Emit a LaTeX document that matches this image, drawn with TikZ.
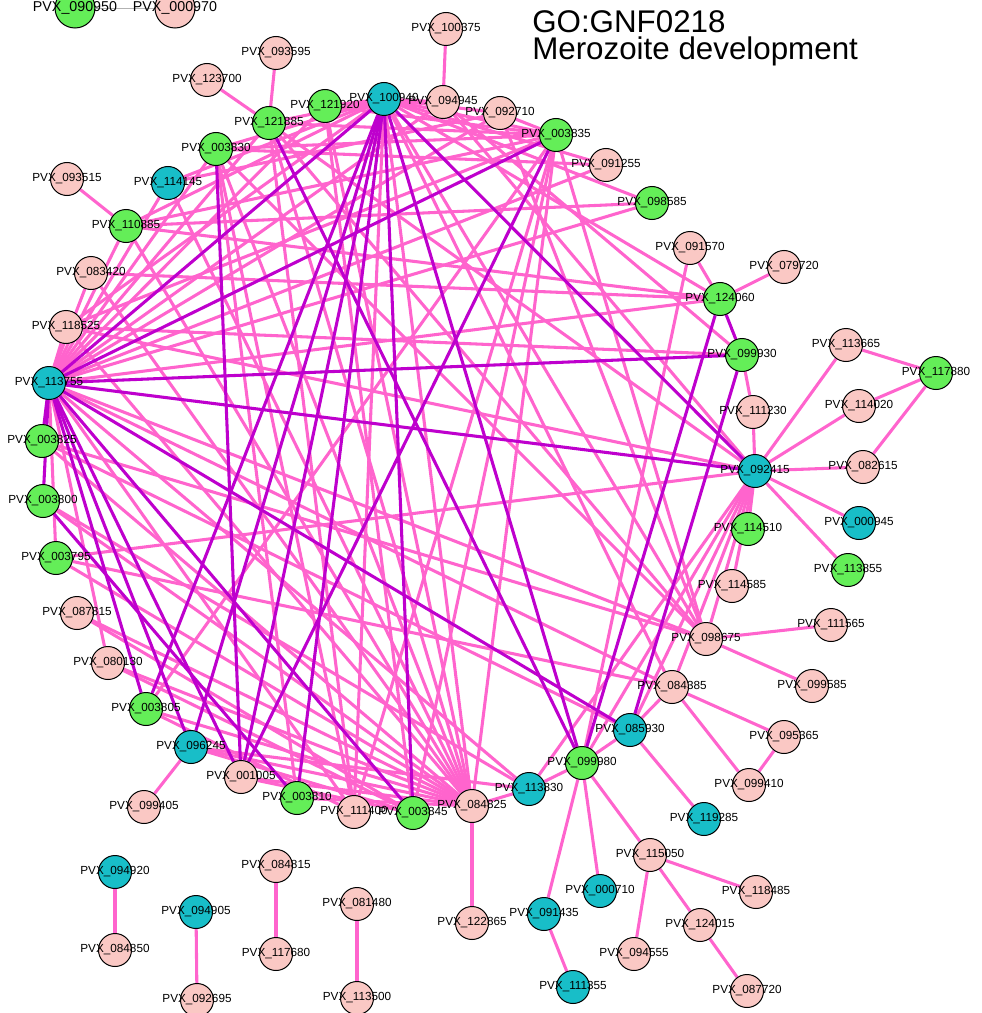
\documentclass[tikz,border=0pt]{standalone}
\usepackage{fontspec}
\setmainfont{Liberation Sans}
\usetikzlibrary{backgrounds}

\definecolor{genepink}{RGB}{250,200,196}
\definecolor{genegreen}{RGB}{100,238,88}
\definecolor{geneteal}{RGB}{24,190,200}
\definecolor{ppipink}{RGB}{255,100,205}
\definecolor{coexpurple}{RGB}{190,0,205}

\def\genes{
  093595/276/53/genepink, 123700/207/80/genepink, 121885/269/123/genegreen,
  121920/325/106/genegreen, 100940/384/99/geneteal, 094945/443/102/genepink,
  100375/446/29/genepink, 092710/500/113/genepink, 003835/556/135/genegreen,
  091255/606/165/genepink, 098585/652/203/genegreen, 091570/690/248/genepink,
  079720/784/267/genepink, 124060/720/299/genegreen, 003830/216/149/genegreen,
  114145/168/183/geneteal, 093515/67/179/genepink, 110885/126/226/genegreen,
  083420/91/273/genepink, 118525/66/327/genepink, 113755/49/383/geneteal,
  003825/42/441/genegreen, 003800/43/501/genegreen, 003795/56/558/genegreen,
  087815/77/613/genepink, 080130/108/663/genepink, 003805/146/709/genegreen,
  096245/191/747/geneteal, 099405/144/807/genepink, 001005/241/777/genepink,
  003810/297/798/genegreen, 111400/354/812/genepink, 003845/413/813/genegreen,
  084825/472/806/genepink, 122865/472/923/genepink, 113830/529/789/geneteal,
  099980/582/763/genegreen, 085930/630/730/geneteal, 091435/544/914/geneteal,
  111355/573/987/geneteal, 000710/600/891/geneteal, 081480/357/904/genepink,
  113500/357/998/genepink, 094920/115/872/geneteal, 084850/115/950/genepink,
  094905/196/912/geneteal, 092695/197/1000/genepink, 084815/276/866/genepink,
  117680/276/954/genepink, 084385/672/687/genepink, 099585/812/686/genepink,
  095365/784/737/genepink, 099410/749/785/genepink, 119285/704/819/geneteal,
  115050/650/855/genepink, 118485/756/892/genepink, 124015/700/925/genepink,
  094555/634/954/genepink, 087720/747/991/genepink, 099930/742/355/genegreen,
  113665/846/345/genepink, 117880/936/373/genegreen, 111230/753/412/genepink,
  114020/859/406/genepink, 092415/755/471/geneteal, 082615/863/467/genepink,
  000945/859/523/geneteal, 114510/748/529/genegreen, 113855/848/570/genegreen,
  114585/732/586/genepink, 111565/831/625/genepink, 098675/706/639/genepink}

\begin{document}
\begin{tikzpicture}[x=0.75pt,y=-0.75pt,
    gene/.style={draw=black, circle, line width=0.75pt, minimum size=24.75pt, inner sep=0pt},
    biggene/.style={gene, minimum size=30pt},
    lbl/.style={font=\fontsize{8.8}{10}\selectfont, inner sep=0pt},
    ppi/.style={draw=ppipink, line width=2.3pt},
    coex/.style={draw=coexpurple, line width=2.3pt}]
\useasboundingbox (0,0) rectangle (981,1013);

% genes
\foreach \id/\x/\y/\c in \genes
  \node[gene, fill=\c] (p\id) at (\x,\y) {};
\node[biggene, fill=genegreen] (p090950) at (75,8) {};
\node[biggene, fill=genepink] (p000970) at (175,8) {};

\begin{pgfonlayer}{background}
\draw[gray!60, line width=0.6pt] (p090950) -- (p000970);
% outer links
\foreach \a/\b in {121885/093595, 121885/123700, 094945/100375, 110885/093515,
    124060/091570, 124060/079720, 096245/099405, 094920/084850, 094905/092695,
    084815/117680, 081480/113500, 084825/122865, 091435/111355, 099980/091435,
    099980/000710, 099980/115050, 115050/118485, 115050/124015, 115050/094555,
    124015/087720, 084385/095365, 084385/099410, 095365/099410, 085930/119285,
    098675/111565, 098675/099585, 092415/113665, 092415/114020, 092415/082615,
    092415/000945, 092415/113855, 092415/111230, 117880/113665, 117880/114020,
    117880/082615, 099930/111230, 092415/114510, 092415/114585, 092415/098675,
    092415/084385, 092415/085930, 092415/099980, 092415/113830, 099980/113830,
    084825/113830, 085930/099980, 084385/085930, 091570/099980}
  \draw[ppi] (p\a) -- (p\b);
% circle links
\foreach \a/\b in {100940/121920, 100940/121885, 100940/003830, 100940/114145,
    100940/110885, 100940/118525, 100940/111400, 100940/084825, 100940/084385,
    100940/098675, 100940/124060, 100940/098585, 100940/091255, 100940/003835,
    100940/092710, 100940/094945,
    113755/118525, 113755/083420, 113755/110885, 113755/114145, 113755/003830,
    113755/121885, 113755/121920, 113755/094945, 113755/092710, 113755/091255,
    113755/098585, 113755/124060, 113755/098675, 113755/084385, 113755/113830,
    113755/111400, 113755/080130, 113755/003795,
    003835/092710, 003835/121920, 003835/121885, 003835/003830, 003835/110885,
    003835/118525, 003835/111400, 003835/003845, 003835/084825, 003835/098675,
    003835/003805,
    121885/084825, 121885/111400, 121885/098675, 121885/092415,
    003830/003810, 003830/111400, 003830/084825, 003830/098675, 003830/091255,
    121920/084825, 121920/003845,
    114145/084825, 114145/092710,
    110885/084825, 110885/098585, 110885/124060,
    083420/084825, 083420/124060,
    118525/099930, 118525/084825, 118525/092415,
    003825/085930, 003825/098675, 003825/084825,
    003800/084825, 003800/113830,
    003795/084825, 003795/084385, 003795/092415,
    087815/084825, 087815/003845,
    080130/084825, 080130/003845,
    003805/084825, 003805/111400,
    096245/084825, 096245/003845, 096245/113830,
    001005/084825, 001005/003845,
    003810/084825,
    094945/092415, 092710/098675, 094945/099930}
  \draw[ppi] (p\a) -- (p\b);
% co-expression links
\foreach \a/\b in {100940/113755, 100940/003810, 100940/003845, 100940/001005,
    100940/096245, 100940/003805, 100940/099980, 100940/092415,
    113755/099930, 113755/092415, 113755/003835, 113755/003825, 113755/003800,
    113755/003805, 113755/096245, 113755/001005, 113755/003845, 113755/085930,
    121885/099980, 003835/001005, 124060/099980, 099930/085930, 003830/001005,
    003800/003810, 124060/099930}
  \draw[coex] (p\a) -- (p\b);
\end{pgfonlayer}

% labels on top
\foreach \id/\x/\y/\c in \genes
  \node[lbl] at (p\id) {PVX\_\id};
\node[lbl, font=\fontsize{10.7}{12}\selectfont] at (p090950) {PVX\_090950};
\node[lbl, font=\fontsize{10.7}{12}\selectfont] at (p000970) {PVX\_000970};

% title
\node[anchor=base west, inner sep=0pt, font=\fontsize{23.5}{26}\selectfont] (title) at (532,33) {GO:GNF0218};
\node[anchor=base west, inner sep=0pt, font=\fontsize{23.5}{26}\selectfont] (subtitle) at (532,60) {Merozoite development};
\end{tikzpicture}
\end{document}
